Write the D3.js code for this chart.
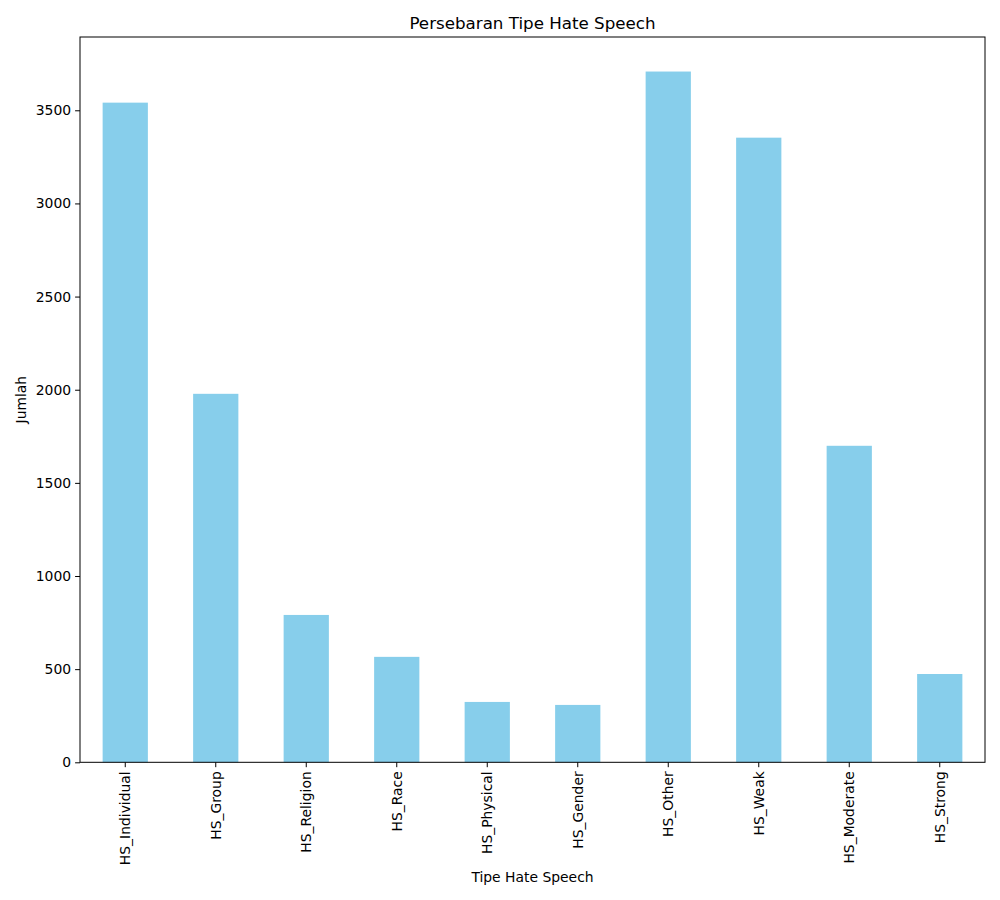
<!DOCTYPE html>
<html>
<head>
<meta charset="utf-8">
<script src="https://cdn.jsdelivr.net/npm/d3@7"></script>
<style>
  body { margin: 0; background: #fff; }
  text { font-family: "DejaVu Sans", sans-serif; fill: #000; }
</style>
</head>
<body>
<svg id="chart" width="1000" height="900"></svg>
<script>
const categories = ["HS_Individual", "HS_Group", "HS_Religion", "HS_Race", "HS_Physical", "HS_Gender", "HS_Other", "HS_Weak", "HS_Moderate", "HS_Strong"];
const counts = [3541, 1978, 791, 566, 324, 308, 3708, 3353, 1699, 474];
const yTicks = [0, 500, 1000, 1500, 2000, 2500, 3000, 3500];

const svg = d3.select("#chart");
const mLeft = 80, mRight = 985, mTop = 37, mBottom = 762.3;

const x = d3.scaleBand().domain(categories).range([mLeft, mRight]).paddingInner(0.5).paddingOuter(0.25);
const y = d3.scaleLinear().domain([0, d3.max(counts) * 1.05]).range([mBottom, mTop]);

svg.append("rect").attr("width", 1000).attr("height", 900).attr("fill", "#fff");

svg.append("g").selectAll("rect").data(categories).join("rect")
  .attr("x", d => x(d))
  .attr("width", x.bandwidth())
  .attr("y", (d, i) => y(counts[i]))
  .attr("height", (d, i) => y(0) - y(counts[i]))
  .attr("fill", "#87ceeb");

// y axis
const yAxis = svg.append("g").attr("transform", `translate(${mLeft},0)`)
  .call(d3.axisLeft(y).tickValues(yTicks).tickSize(4.9).tickPadding(4).tickFormat(d3.format("d")));
yAxis.select(".domain").remove();
yAxis.selectAll("text").style("font-size", "13.9px").style("font-family", "DejaVu Sans");
yAxis.selectAll("line").attr("stroke", "#000").attr("stroke-width", 1);

// x axis
const xAxis = svg.append("g").attr("transform", `translate(0,${mBottom})`)
  .call(d3.axisBottom(x).tickSize(4.9).tickPadding(0));
xAxis.select(".domain").remove();
xAxis.selectAll("line").attr("stroke", "#000");
xAxis.selectAll("text")
  .style("font-size", "13.9px").style("font-family", "DejaVu Sans")
  .attr("text-anchor", "end")
  .attr("dy", "0.35em")
  .attr("transform", "translate(0,9) rotate(-90)")
  .attr("x", 0).attr("y", 0);

// frame
svg.append("rect").attr("x", mLeft).attr("y", mTop).attr("width", mRight - mLeft).attr("height", mBottom - mTop)
  .attr("fill", "none").attr("stroke", "#000").attr("stroke-width", 1);

// title and labels
svg.append("text").attr("x", (mLeft + mRight) / 2).attr("y", 29).attr("text-anchor", "middle")
  .style("font-size", "16.7px").text("Persebaran Tipe Hate Speech");
svg.append("text").attr("x", (mLeft + mRight) / 2).attr("y", 882).attr("text-anchor", "middle")
  .style("font-size", "13.9px").text("Tipe Hate Speech");
svg.append("text").attr("transform", `translate(26,${(mTop + mBottom) / 2}) rotate(-90)`).attr("text-anchor", "middle")
  .style("font-size", "13.9px").text("Jumlah");
</script>
</body>
</html>
